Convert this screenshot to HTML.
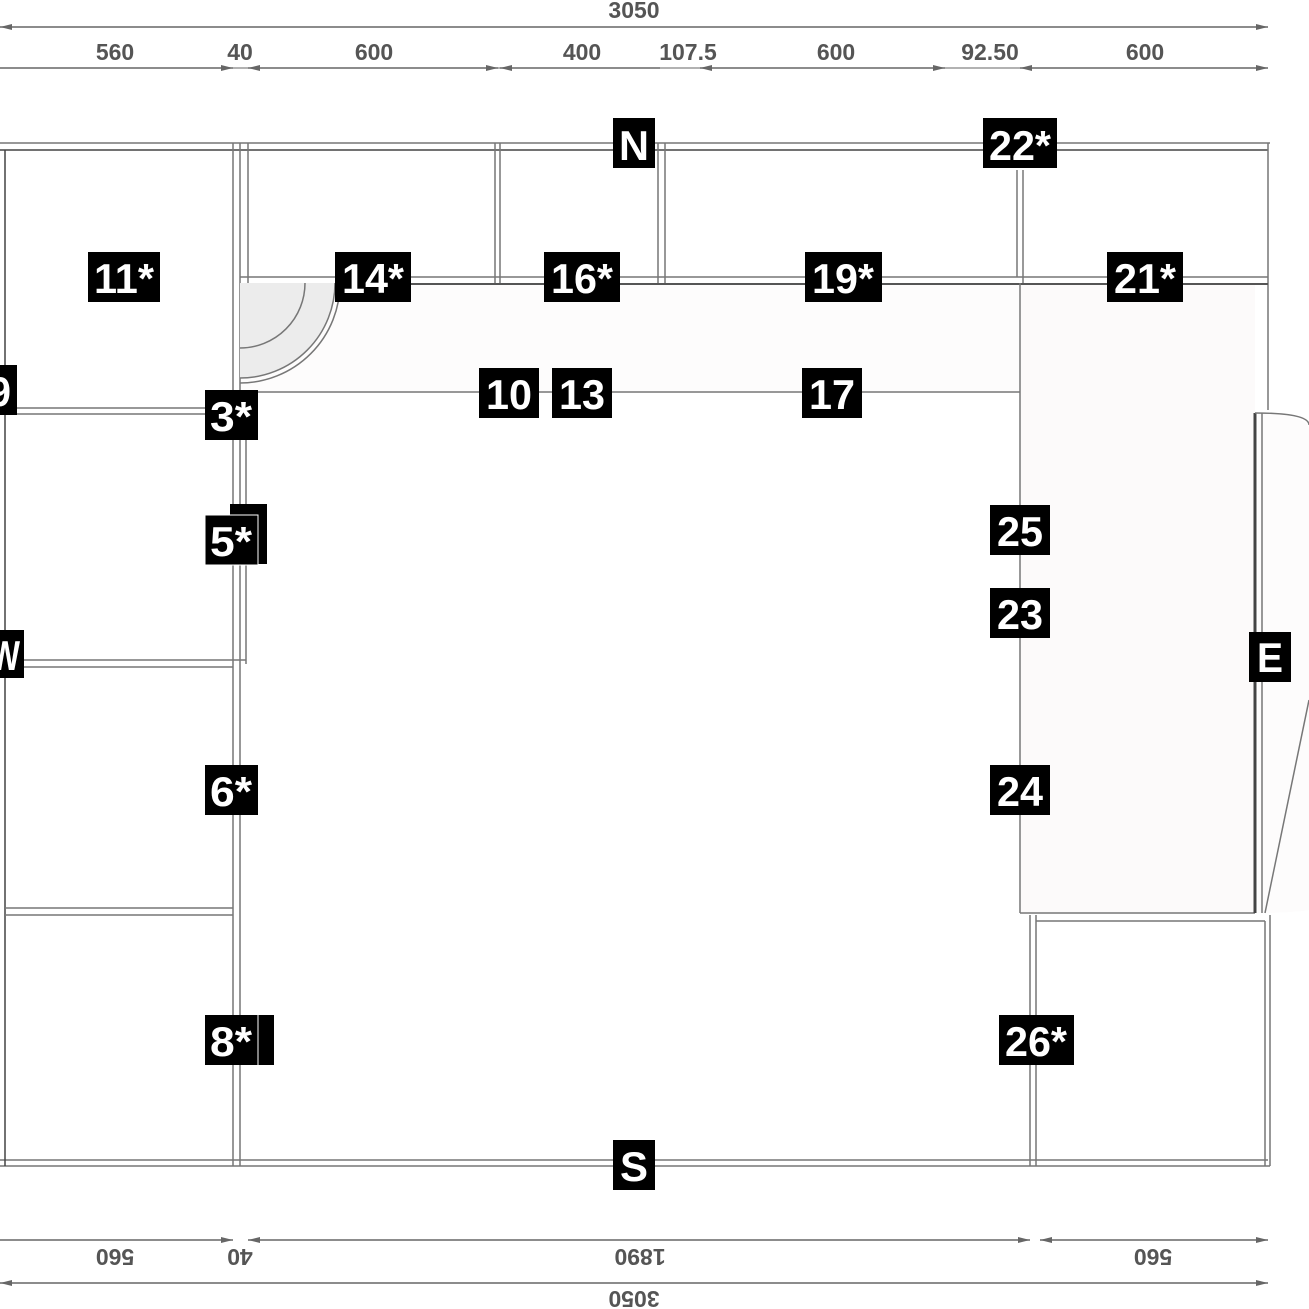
<!DOCTYPE html>
<html><head><style>
html,body{margin:0;padding:0;background:#fff}
svg{display:block}
.d{font-family:"Liberation Sans",sans-serif;font-weight:bold;font-size:23px;fill:#555;text-anchor:middle}
.l{font-family:"Liberation Sans",sans-serif;font-weight:bold;font-size:42px;fill:#fff;text-anchor:middle}
</style></head><body>
<svg width="1309" height="1309" viewBox="0 0 1309 1309" xmlns="http://www.w3.org/2000/svg">
<defs>
<marker id="a" markerWidth="12" markerHeight="8" refX="12" refY="4" orient="auto-start-reverse" markerUnits="userSpaceOnUse"><path d="M0,1 L12,4 L0,7z" fill="#666"/></marker>
</defs>
<rect x="240" y="283" width="780" height="109" fill="#fdfcfc"/>
<rect x="1020" y="283" width="235" height="630" fill="#fcfafa"/>
<path d="M1258,413 Q1309,415 1309,430 L1309,910 Q1290,913 1258,913z" fill="#fdfcfc"/>
<g fill="none" stroke="#777" stroke-width="1.5">
<line x1="0" y1="143" x2="1270" y2="143"/>
<line x1="0" y1="150" x2="1268" y2="150" stroke="#444"/>
<line x1="0" y1="1160" x2="1268" y2="1160"/>
<line x1="0" y1="1166" x2="1270" y2="1166"/>
<line x1="5" y1="150" x2="5" y2="1166" stroke="#444"/>
<line x1="1268" y1="143" x2="1268" y2="410"/>
<line x1="1270" y1="915" x2="1270" y2="1166"/>
<line x1="233" y1="143" x2="233" y2="1166"/>
<line x1="240" y1="143" x2="240" y2="1166"/>
<line x1="248" y1="143" x2="248" y2="283"/>
<line x1="5" y1="408" x2="230" y2="408"/>
<line x1="5" y1="414" x2="230" y2="414"/>
<line x1="5" y1="660" x2="246" y2="660"/>
<line x1="5" y1="667" x2="233" y2="667"/>
<line x1="246" y1="414" x2="246" y2="664"/>
<line x1="5" y1="908" x2="233" y2="908"/>
<line x1="5" y1="915" x2="233" y2="915"/>
<line x1="240" y1="277" x2="1268" y2="277"/>
<line x1="240" y1="284" x2="1268" y2="284" stroke="#555" stroke-width="2"/>
<line x1="495" y1="143" x2="495" y2="283"/>
<line x1="500" y1="143" x2="500" y2="283"/>
<line x1="658" y1="143" x2="658" y2="283"/>
<line x1="665" y1="143" x2="665" y2="283"/>
<line x1="1017" y1="170" x2="1017" y2="277"/>
<line x1="1023" y1="170" x2="1023" y2="283"/>
<line x1="255" y1="392" x2="1020" y2="392"/>
<line x1="1020" y1="283" x2="1020" y2="913"/>
<line x1="1020" y1="913" x2="1255" y2="913"/>
<line x1="1255" y1="413" x2="1255" y2="913" stroke="#444" stroke-width="3"/>
<line x1="1262" y1="413" x2="1262" y2="913"/>
<path d="M1255,413 Q1309,413 1309,425"/>
<path d="M1309,700 L1265,913"/>
<line x1="1030" y1="915" x2="1030" y2="1166"/>
<line x1="1036" y1="915" x2="1036" y2="1166"/>
<line x1="1036" y1="921" x2="1265" y2="921"/>
<line x1="1265" y1="921" x2="1265" y2="1166"/>
<path d="M240,283 L335,283 A95,95 0 0 1 240,378z" fill="#ececec" stroke="none"/>
<path d="M305,283 A65,65 0 0 1 240,348"/>
<path d="M335,283 A95,95 0 0 1 240,378"/>
<path d="M340,283 A100,100 0 0 1 240,383"/>
</g>
<g stroke="#666" stroke-width="1.5">
<line x1="0" y1="27" x2="1268" y2="27" marker-start="url(#a)" marker-end="url(#a)"/>
<line x1="0" y1="68" x2="233" y2="68" marker-end="url(#a)"/>
<line x1="248" y1="68" x2="498" y2="68" marker-start="url(#a)" marker-end="url(#a)"/>
<line x1="500" y1="68" x2="660" y2="68" marker-start="url(#a)"/>
<line x1="700" y1="68" x2="945" y2="68" marker-start="url(#a)" marker-end="url(#a)"/>
<line x1="1020" y1="68" x2="1268" y2="68" marker-start="url(#a)" marker-end="url(#a)"/>
<line x1="0" y1="68" x2="1268" y2="68" stroke-width="1"/>
<line x1="0" y1="1240" x2="233" y2="1240" marker-end="url(#a)"/>
<line x1="248" y1="1240" x2="1030" y2="1240" marker-start="url(#a)" marker-end="url(#a)"/>
<line x1="1040" y1="1240" x2="1268" y2="1240" marker-start="url(#a)" marker-end="url(#a)"/>
<line x1="0" y1="1283" x2="1268" y2="1283" marker-start="url(#a)" marker-end="url(#a)"/>
</g>
<g>
<text x="634" y="18" class="d">3050</text>
<text x="115" y="60" class="d">560</text>
<text x="240" y="60" class="d">40</text>
<text x="374" y="60" class="d">600</text>
<text x="582" y="60" class="d">400</text>
<text x="688" y="60" class="d">107.5</text>
<text x="836" y="60" class="d">600</text>
<text x="990" y="60" class="d">92.50</text>
<text x="1145" y="60" class="d">600</text>
<text class="d" transform="translate(115,1249) rotate(180)">560</text>
<text class="d" transform="translate(240,1249) rotate(180)">40</text>
<text class="d" transform="translate(640,1249) rotate(180)">1890</text>
<text class="d" transform="translate(1153,1249) rotate(180)">560</text>
<text class="d" transform="translate(634,1291) rotate(180)">3050</text>
</g>
<g fill="#000">
<rect x="230" y="504" width="37" height="60"/>
<rect x="256" y="1015" width="18" height="50"/>
<rect x="613" y="118" width="42" height="50"/>
<rect x="983" y="118" width="74" height="50"/>
<rect x="88" y="252" width="72" height="50"/>
<rect x="335" y="252" width="76" height="50"/>
<rect x="544" y="252" width="76" height="50"/>
<rect x="805" y="252" width="77" height="50"/>
<rect x="1107" y="252" width="76" height="50"/>
<rect x="479" y="368" width="60" height="50"/>
<rect x="552" y="368" width="60" height="50"/>
<rect x="802" y="368" width="60" height="50"/>
<rect x="-12" y="365" width="29" height="50"/>
<rect x="205" y="390" width="53" height="50"/>
<rect x="205" y="515" width="53" height="50" stroke="#fff" stroke-width="1"/>
<rect x="-10" y="630" width="34" height="48"/>
<rect x="1249" y="632" width="42" height="50"/>
<rect x="990" y="505" width="60" height="50"/>
<rect x="990" y="588" width="60" height="50"/>
<rect x="990" y="765" width="60" height="50"/>
<rect x="205" y="765" width="53" height="50"/>
<rect x="205" y="1015" width="53" height="50"/>
<rect x="999" y="1015" width="75" height="50"/>
<rect x="613" y="1140" width="42" height="50"/>
</g>
<line x1="258" y1="1015" x2="258" y2="1065" stroke="#fff" stroke-width="1"/>
<g class="l">
<text x="634" y="160" textLength="30" lengthAdjust="spacingAndGlyphs">N</text>
<text x="1020" y="160" textLength="62" lengthAdjust="spacingAndGlyphs">22*</text>
<text x="124" y="293" textLength="60" lengthAdjust="spacingAndGlyphs">11*</text>
<text x="373" y="293" textLength="62" lengthAdjust="spacingAndGlyphs">14*</text>
<text x="582" y="293" textLength="62" lengthAdjust="spacingAndGlyphs">16*</text>
<text x="843" y="293" textLength="62" lengthAdjust="spacingAndGlyphs">19*</text>
<text x="1145" y="293" textLength="62" lengthAdjust="spacingAndGlyphs">21*</text>
<text x="509" y="409" textLength="46" lengthAdjust="spacingAndGlyphs">10</text>
<text x="582" y="409" textLength="46" lengthAdjust="spacingAndGlyphs">13</text>
<text x="832" y="409" textLength="46" lengthAdjust="spacingAndGlyphs">17</text>
<text x="0" y="406" textLength="22" lengthAdjust="spacingAndGlyphs">9</text>
<text x="231" y="431" textLength="42" lengthAdjust="spacingAndGlyphs">3*</text>
<text x="231" y="556" textLength="42" lengthAdjust="spacingAndGlyphs">5*</text>
<text x="5" y="670" textLength="30" lengthAdjust="spacingAndGlyphs">W</text>
<text x="1270" y="672" textLength="26" lengthAdjust="spacingAndGlyphs">E</text>
<text x="1020" y="546" textLength="46" lengthAdjust="spacingAndGlyphs">25</text>
<text x="1020" y="629" textLength="46" lengthAdjust="spacingAndGlyphs">23</text>
<text x="1020" y="806" textLength="46" lengthAdjust="spacingAndGlyphs">24</text>
<text x="231" y="806" textLength="42" lengthAdjust="spacingAndGlyphs">6*</text>
<text x="231" y="1056" textLength="42" lengthAdjust="spacingAndGlyphs">8*</text>
<text x="1036" y="1056" textLength="62" lengthAdjust="spacingAndGlyphs">26*</text>
<text x="634" y="1181" textLength="28" lengthAdjust="spacingAndGlyphs">S</text>
</g>
</svg>
</body></html>
